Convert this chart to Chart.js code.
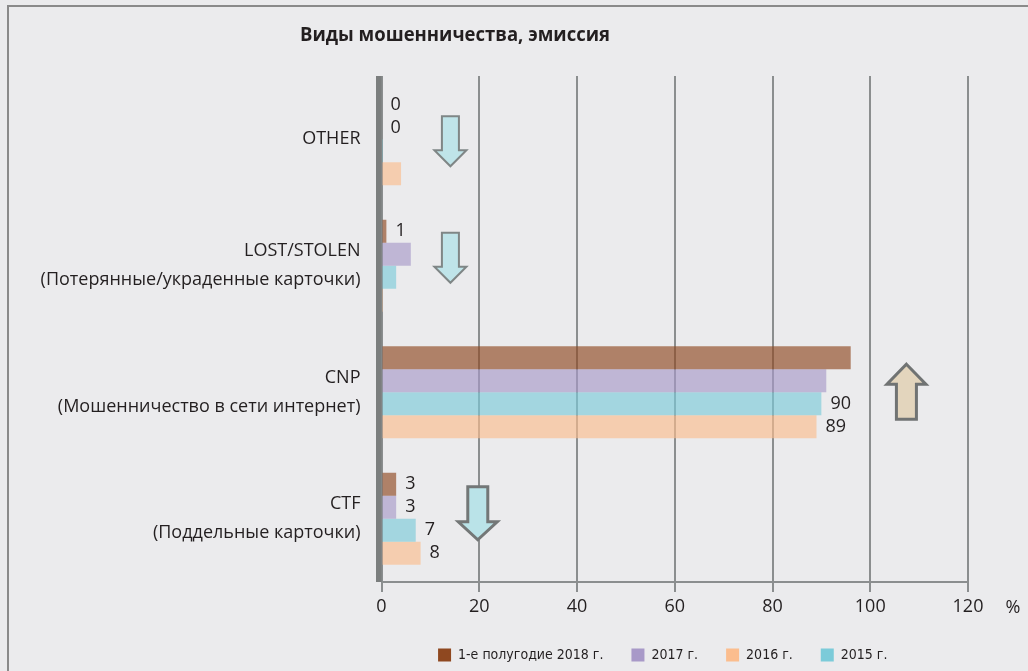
<!DOCTYPE html>
<html lang="ru">
<head>
<meta charset="utf-8">
<title>Виды мошенничества, эмиссия</title>
<script src="https://cdn.jsdelivr.net/npm/chart.js@4.4.1/dist/chart.umd.min.js"></script>
<style>
  html, body { margin: 0; padding: 0; background: #ebebed; }
  #wrap { width: 1028px; height: 671px; }
</style>
</head>
<body>
<div id="wrap"><canvas id="chart" width="1028" height="671"></canvas></div>
<script>
// Categories, top to bottom
const categories = [
    'OTHER',
    ['LOST/STOLEN', '(Потерянные/украденные карточки)'],
    ['CNP', '(Мошенничество в сети интернет)'],
    ['CTF', '(Поддельные карточки)']
];

// Series values in %, same order as the categories
const values2018 = [0, 1, 96, 3];
const values2017 = [0, 6, 91, 3];
const values2015 = [0.3, 3, 90, 7];
const values2016 = [4, 0.3, 89, 8];

// Numbers printed next to the bars (null = nothing printed)
const labels2018 = ['0', '1', null, '3'];
const labels2017 = ['0', null, null, '3'];
const labels2015 = [null, null, '90', '7'];
const labels2016 = [null, null, '89', '8'];

const seriesNames = ['1-е полугодие 2018 г.', '2017 г.', '2015 г.', '2016 г.'];
const xTicks = [0, 20, 40, 60, 80, 100, 120];
const titleText = 'Виды мошенничества, эмиссия';
const unitText = '%';

// Colours
const solidColors = ['#8f4820', '#a899c8', '#7ccbd9', '#fbbd8e'];
const barColors = ['rgba(143,72,32,0.65)', 'rgba(168,153,200,0.65)', 'rgba(124,203,217,0.65)', 'rgba(251,189,142,0.65)'];
const legendOrder = [0, 1, 3, 2];
const textColor = '#231f20';
const gridColor = '#8b8e8f';

// Trend arrows: category index, x value, direction
const trendArrows = [
    { cat: 0, x: 14.1, dir: 'down', dy: -23, w: 32, sw: 17, h: 50, hh: 16, fill: '#bfe4e9', stroke: '#7f8686', lw: 2 },
    { cat: 1, x: 14.1, dir: 'down', dy: -33, w: 32, sw: 17, h: 50, hh: 16, fill: '#bfe4e9', stroke: '#7f8686', lw: 2 },
    { cat: 2, x: 107.4, dir: 'up', dy: -28, w: 39, sw: 20, h: 55, hh: 20, fill: '#e3d5bd', stroke: '#707373', lw: 3 },
    { cat: 3, x: 19.7, dir: 'down', dy: -32, w: 39, sw: 20, h: 53, hh: 18, fill: '#bae3e8', stroke: '#737777', lw: 3 }
];

const valueLabels = [labels2018, labels2017, labels2015, labels2016];

function drawArrow(ctx, a, cx, top) {
    const w2 = a.w / 2, s2 = a.sw / 2;
    ctx.beginPath();
    if (a.dir === 'down') {
        ctx.moveTo(cx - s2, top);
        ctx.lineTo(cx + s2, top);
        ctx.lineTo(cx + s2, top + a.h - a.hh);
        ctx.lineTo(cx + w2, top + a.h - a.hh);
        ctx.lineTo(cx, top + a.h);
        ctx.lineTo(cx - w2, top + a.h - a.hh);
        ctx.lineTo(cx - s2, top + a.h - a.hh);
    } else {
        ctx.moveTo(cx, top);
        ctx.lineTo(cx + w2, top + a.hh);
        ctx.lineTo(cx + s2, top + a.hh);
        ctx.lineTo(cx + s2, top + a.h);
        ctx.lineTo(cx - s2, top + a.h);
        ctx.lineTo(cx - s2, top + a.hh);
        ctx.lineTo(cx - w2, top + a.hh);
    }
    ctx.closePath();
    ctx.fillStyle = a.fill;
    ctx.fill();
    ctx.lineWidth = a.lw;
    ctx.strokeStyle = a.stroke;
    ctx.lineJoin = 'miter';
    ctx.stroke();
}

// Background, frame, title, axis bar, value labels and arrows
const decorPlugin = {
    id: 'decor',
    afterLayout(chart) {
        // legend sits a little left of the plot centre
        chart.legend.left -= 12;
        chart.legend.right -= 12;
    },
    beforeDraw(chart) {
        const ctx = chart.ctx;
        ctx.save();
        ctx.fillStyle = '#ebebed';
        ctx.fillRect(0, 0, chart.width, chart.height);
        ctx.fillStyle = '#8a8a8a';
        ctx.fillRect(7, 5, chart.width - 7, 2);
        ctx.fillRect(7, 5, 2, chart.height - 5);
        // title
        ctx.fillStyle = textColor;
        ctx.font = 'bold 20px "Open Sans"';
        ctx.textAlign = 'left';
        ctx.textBaseline = 'alphabetic';
        ctx.fillText(titleText, 300, 41, 310);
        ctx.restore();
    },
    afterDatasetsDraw(chart) {
        const ctx = chart.ctx;
        const area = chart.chartArea;
        const xs = chart.scales.x, ys = chart.scales.y;
        ctx.save();
        // thick vertical axis
        ctx.fillStyle = '#7b7e7e';
        ctx.fillRect(area.left - 5.5, area.top, 5.5, area.bottom - area.top);

        // value labels
        ctx.fillStyle = textColor;
        ctx.font = '18px "Open Sans"';
        ctx.textAlign = 'left';
        ctx.textBaseline = 'middle';
        chart.data.datasets.forEach((ds, di) => {
            const meta = chart.getDatasetMeta(di);
            meta.data.forEach((bar, i) => {
                const txt = valueLabels[di][i];
                if (txt !== null) ctx.fillText(txt, bar.x + 9, bar.y);
            });
        });

        // unit sign after the last tick
        ctx.textAlign = 'center';
        ctx.fillText(unitText, xs.right + 45, xs.top + 26);

        // trend arrows
        trendArrows.forEach(a => {
            const cx = xs.getPixelForValue(a.x);
            const cy = ys.getPixelForValue(a.cat);
            drawArrow(ctx, a, cx, cy + a.dy);
        });
        ctx.restore();
    }
};

const seriesValues = [values2018, values2017, values2015, values2016];

const ctx = document.getElementById('chart').getContext('2d');
const chart = new Chart(ctx, {
    type: 'bar',
    data: {
        labels: categories,
        datasets: seriesValues.map((vals, i) => ({
            label: seriesNames[i],
            data: vals,
            backgroundColor: barColors[i],
            borderWidth: 0,
            categoryPercentage: 0.726,
            barPercentage: 1
        }))
    },
    options: {
        indexAxis: 'y',
        responsive: false,
        animation: false,
        devicePixelRatio: 1,
        layout: { padding: { top: 76, right: 60, bottom: -1, left: 0 } },
        plugins: {
            tooltip: { enabled: false },
            title: { display: false },
            legend: {
                position: 'bottom',
                align: 'center',
                fullSize: false,
                labels: {
                    boxWidth: 13,
                    boxHeight: 13,
                    padding: 28,
                    color: textColor,
                    font: { family: '"Liberation Sans Narrow", "DejaVu Sans Condensed", sans-serif', size: 14 },
                    generateLabels(chart) {
                        return legendOrder.map(i => ({
                            text: chart.data.datasets[i].label,
                            fillStyle: solidColors[i],
                            strokeStyle: solidColors[i],
                            lineWidth: 0,
                            hidden: false,
                            datasetIndex: i,
                            fontColor: textColor
                        }));
                    }
                }
            }
        },
        scales: {
            x: {
                min: xTicks[0],
                max: xTicks[xTicks.length - 1],
                afterBuildTicks(scale) {
                    scale.ticks = xTicks.map(v => ({ value: v }));
                },
                afterFit(scale) { scale.height = 38; },
                ticks: {
                    padding: 4,
                    color: textColor,
                    font: { family: '"Open Sans"', size: 18 }
                },
                grid: {
                    color: gridColor,
                    lineWidth: 2,
                    tickLength: 10,
                    drawTicks: true
                },
                border: { display: true, color: gridColor, width: 2 }
            },
            y: {
                afterFit(scale) { scale.width = 381.5; },
                grid: { display: false, drawTicks: false },
                border: { display: false },
                ticks: {
                    padding: 21,
                    color: textColor,
                    font: { family: '"Open Sans"', size: 18, lineHeight: 1.6 }
                }
            }
        }
    },
    plugins: [decorPlugin]
});
</script>
</body>
</html>
